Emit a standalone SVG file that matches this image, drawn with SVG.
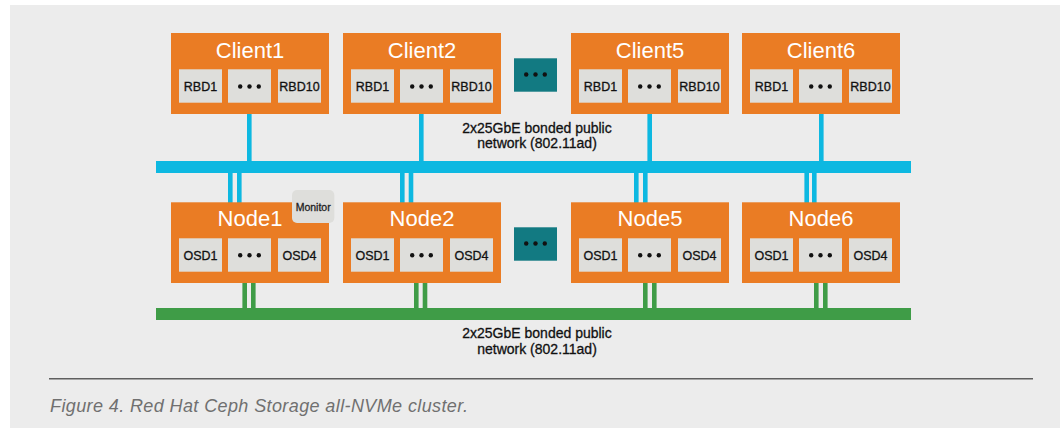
<svg xmlns="http://www.w3.org/2000/svg" width="1060" height="428" viewBox="0 0 1060 428">
<defs>
<style>
.bg{fill:#ececec}
.box{fill:#ea7c24}
.sub{fill:#dededb}
.teal{fill:#127a82}
.title{font-family:"Liberation Sans",Arial,sans-serif;font-size:22px;fill:#ffffff;text-anchor:middle}
.lbl{font-family:"Liberation Sans",Arial,sans-serif;font-size:12.5px;fill:#111;stroke:#111;stroke-width:0.3;text-anchor:middle}
.net{font-family:"Liberation Sans",Arial,sans-serif;font-size:14px;fill:#111;stroke:#111;stroke-width:0.3;text-anchor:middle}
.mon{font-family:"Liberation Sans",Arial,sans-serif;font-size:10.5px;fill:#222;stroke:#222;stroke-width:0.3;text-anchor:middle}
.cap{font-family:"Liberation Sans",Arial,sans-serif;font-size:18px;fill:#707070;font-style:italic}
.blue{stroke:#0db8e1;stroke-width:4.6}
.green{stroke:#3f9c47;stroke-width:4.6}
.dot{fill:#111}
</style>
<g id="dots3">
<circle cx="-9.3" cy="0" r="2.2"/><circle cx="0" cy="0" r="2.2"/><circle cx="9.3" cy="0" r="2.2"/>
</g>
</defs>
<rect x="0" y="0" width="1060" height="428" fill="#ffffff"/>
<rect class="bg" x="10" y="5" width="1050" height="423"/>

<g id="connectors">
<rect x="156" y="161" width="755" height="12" fill="#0db8e1"/>
<rect x="156" y="308" width="755" height="12" fill="#3f9c47"/>
<line class="blue" x1="249.3" y1="113" x2="249.3" y2="162"/>
<line class="blue" x1="421.3" y1="113" x2="421.3" y2="162"/>
<line class="blue" x1="649.7" y1="113" x2="649.7" y2="162"/>
<line class="blue" x1="821.3" y1="113" x2="821.3" y2="162"/>
<line class="blue" x1="230.3" y1="172" x2="230.3" y2="203"/>
<line class="blue" x1="239.3" y1="172" x2="239.3" y2="203"/>
<line class="blue" x1="402.3" y1="172" x2="402.3" y2="203"/>
<line class="blue" x1="411" y1="172" x2="411" y2="203"/>
<line class="blue" x1="636.3" y1="172" x2="636.3" y2="203"/>
<line class="blue" x1="645.3" y1="172" x2="645.3" y2="203"/>
<line class="blue" x1="806.7" y1="172" x2="806.7" y2="203"/>
<line class="blue" x1="814.3" y1="172" x2="814.3" y2="203"/>
<line class="green" x1="244.7" y1="282" x2="244.7" y2="309"/>
<line class="green" x1="253.3" y1="282" x2="253.3" y2="309"/>
<line class="green" x1="416.3" y1="282" x2="416.3" y2="309"/>
<line class="green" x1="425" y1="282" x2="425" y2="309"/>
<line class="green" x1="645.3" y1="282" x2="645.3" y2="309"/>
<line class="green" x1="654.3" y1="282" x2="654.3" y2="309"/>
<line class="green" x1="816.3" y1="282" x2="816.3" y2="309"/>
<line class="green" x1="825.3" y1="282" x2="825.3" y2="309"/>
</g>

<g id="net-public-label">
<text class="net" x="537" y="132.5">2x25GbE bonded public</text>
<text class="net" x="537" y="148">network (802.11ad)</text>
</g>
<g id="net-cluster-label">
<text class="net" x="537" y="338.3">2x25GbE bonded public</text>
<text class="net" x="537" y="353.8">network (802.11ad)</text>
</g>

<g id="client1">
<rect class="box" x="171" y="33" width="158" height="81"/>
<text class="title" x="250" y="57.5">Client1</text>
<rect class="sub" x="179" y="69.3" width="43" height="33.4"/>
<rect class="sub" x="228" y="69.3" width="43" height="33.4"/>
<rect class="sub" x="278" y="69.3" width="43" height="33.4"/>
<text class="lbl" x="200.5" y="91.3">RBD1</text>
<use href="#dots3" x="249.5" y="86.5" class="dot"/>
<text class="lbl" x="299.5" y="91.3">RBD10</text>
</g>
<g id="client2">
<rect class="box" x="343" y="33" width="158" height="81"/>
<text class="title" x="422" y="57.5">Client2</text>
<rect class="sub" x="351" y="69.3" width="43" height="33.4"/>
<rect class="sub" x="400" y="69.3" width="43" height="33.4"/>
<rect class="sub" x="450" y="69.3" width="43" height="33.4"/>
<text class="lbl" x="372.5" y="91.3">RBD1</text>
<use href="#dots3" x="421.5" y="86.5" class="dot"/>
<text class="lbl" x="471.5" y="91.3">RBD10</text>
</g>
<g id="client-more">
<rect class="teal" x="514" y="58.3" width="43" height="33.4"/>
<use href="#dots3" x="535.5" y="74.5" class="dot"/>
</g>
<g id="client5">
<rect class="box" x="571" y="33" width="158" height="81"/>
<text class="title" x="650" y="57.5">Client5</text>
<rect class="sub" x="579" y="69.3" width="43" height="33.4"/>
<rect class="sub" x="628" y="69.3" width="43" height="33.4"/>
<rect class="sub" x="678" y="69.3" width="43" height="33.4"/>
<text class="lbl" x="600.5" y="91.3">RBD1</text>
<use href="#dots3" x="649.5" y="86.5" class="dot"/>
<text class="lbl" x="699.5" y="91.3">RBD10</text>
</g>
<g id="client6">
<rect class="box" x="742" y="33" width="158" height="81"/>
<text class="title" x="821" y="57.5">Client6</text>
<rect class="sub" x="750" y="69.3" width="43" height="33.4"/>
<rect class="sub" x="799" y="69.3" width="43" height="33.4"/>
<rect class="sub" x="849" y="69.3" width="43" height="33.4"/>
<text class="lbl" x="771.5" y="91.3">RBD1</text>
<use href="#dots3" x="820.5" y="86.5" class="dot"/>
<text class="lbl" x="870.5" y="91.3">RBD10</text>
</g>

<g id="node1">
<rect class="box" x="171" y="202.3" width="158" height="80.7"/>
<text class="title" x="250" y="226">Node1</text>
<rect class="sub" x="179" y="238.3" width="43" height="33.4"/>
<rect class="sub" x="228" y="238.3" width="43" height="33.4"/>
<rect class="sub" x="278" y="238.3" width="43" height="33.4"/>
<text class="lbl" x="200.5" y="260">OSD1</text>
<use href="#dots3" x="249.5" y="255.3" class="dot"/>
<text class="lbl" x="299.5" y="260">OSD4</text>
</g>
<g id="monitor">
<rect class="sub" x="292" y="190" width="42.3" height="33" rx="5"/>
<text class="mon" x="313.2" y="210.5">Monitor</text>
</g>
<g id="node2">
<rect class="box" x="343" y="202.3" width="158" height="80.7"/>
<text class="title" x="422" y="226">Node2</text>
<rect class="sub" x="351" y="238.3" width="43" height="33.4"/>
<rect class="sub" x="400" y="238.3" width="43" height="33.4"/>
<rect class="sub" x="450" y="238.3" width="43" height="33.4"/>
<text class="lbl" x="372.5" y="260">OSD1</text>
<use href="#dots3" x="421.5" y="255.3" class="dot"/>
<text class="lbl" x="471.5" y="260">OSD4</text>
</g>
<g id="node-more">
<rect class="teal" x="514" y="227.3" width="43" height="33.4"/>
<use href="#dots3" x="535.5" y="243.5" class="dot"/>
</g>
<g id="node5">
<rect class="box" x="571" y="202.3" width="158" height="80.7"/>
<text class="title" x="650" y="226">Node5</text>
<rect class="sub" x="579" y="238.3" width="43" height="33.4"/>
<rect class="sub" x="628" y="238.3" width="43" height="33.4"/>
<rect class="sub" x="678" y="238.3" width="43" height="33.4"/>
<text class="lbl" x="600.5" y="260">OSD1</text>
<use href="#dots3" x="649.5" y="255.3" class="dot"/>
<text class="lbl" x="699.5" y="260">OSD4</text>
</g>
<g id="node6">
<rect class="box" x="742" y="202.3" width="158" height="80.7"/>
<text class="title" x="821" y="226">Node6</text>
<rect class="sub" x="750" y="238.3" width="43" height="33.4"/>
<rect class="sub" x="799" y="238.3" width="43" height="33.4"/>
<rect class="sub" x="849" y="238.3" width="43" height="33.4"/>
<text class="lbl" x="771.5" y="260">OSD1</text>
<use href="#dots3" x="820.5" y="255.3" class="dot"/>
<text class="lbl" x="870.5" y="260">OSD4</text>
</g>

<g id="caption">
<line x1="49" y1="378.7" x2="1033" y2="378.7" stroke="#5f5f5f" stroke-width="1.6"/>
<text class="cap" x="50" y="412" textLength="418" lengthAdjust="spacing">Figure 4. Red Hat Ceph Storage all-NVMe cluster.</text>
</g>
</svg>
